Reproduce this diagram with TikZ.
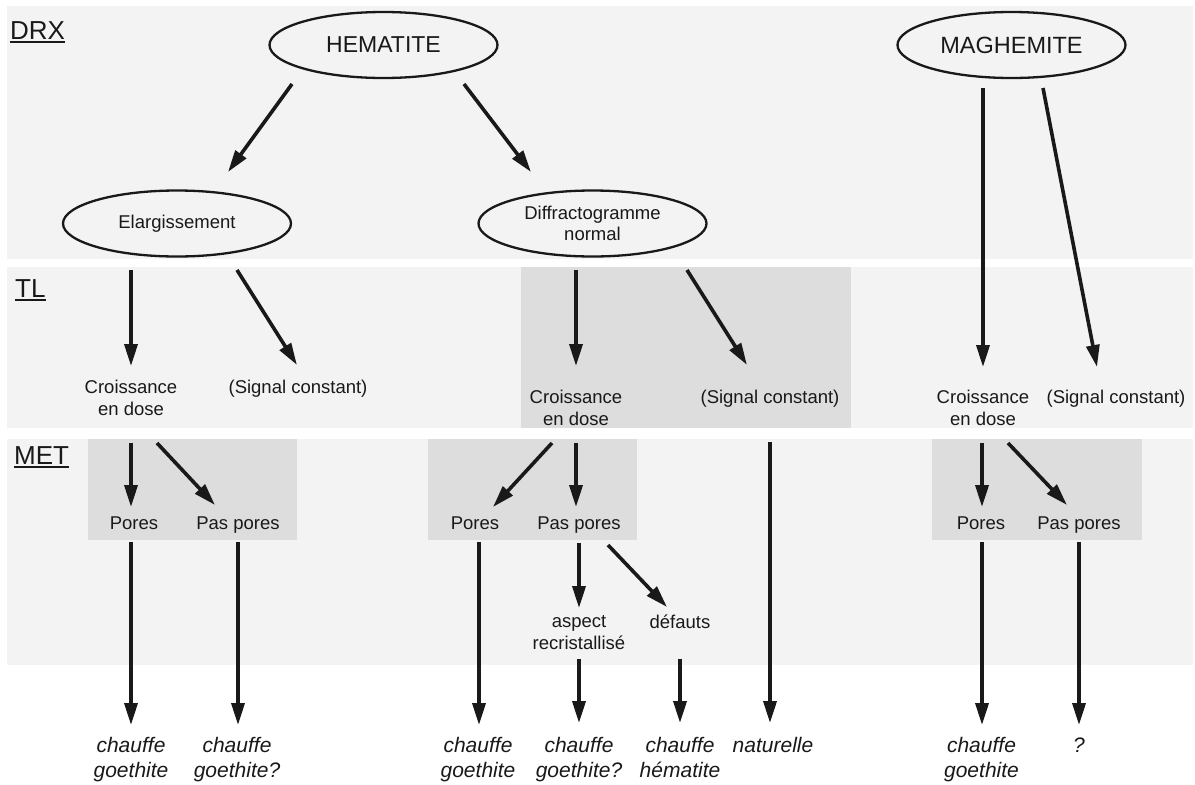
\documentclass[tikz,border=0pt]{standalone}
\usepackage{fontspec}
\setmainfont{Liberation Sans}
\usetikzlibrary{arrows.meta,shapes.geometric}
\definecolor{lanegray}{RGB}{243,243,243}
\definecolor{zonegray}{RGB}{221,221,221}
\definecolor{ink}{RGB}{25,25,25}
\begin{document}
\begin{tikzpicture}[x=1pt, y=-1pt,
    oval/.style={draw=ink, ellipse, line width=2.3pt, minimum width=228pt, minimum height=66pt, inner sep=0pt, text=ink},
    lbl/.style={inner sep=0pt, text=ink, align=center, font=\fontsize{18.5}{22}\selectfont},
    res/.style={inner sep=0pt, text=ink, align=center, anchor=base, font=\fontsize{21}{25}\selectfont\itshape},
    tag/.style={inner sep=0pt, text=ink, anchor=base west, font=\fontsize{26}{30}\selectfont},
    flow/.style={draw=ink, line width=3.6pt, -{Triangle[length=22pt,width=13pt]}}]
  \useasboundingbox (0,0) rectangle (1195,785);
  \foreach \ya/\yb in {6/259, 267/428, 439/665}
    \fill[lanegray] (7,\ya) rectangle (1193,\yb);
  \foreach \xa/\ya/\xb/\yb in {521/267/851/428, 88/439/297/540, 428/439/637/540, 932/439/1142/540}
    \fill[zonegray] (\xa,\ya) rectangle (\xb,\yb);

  \node[tag] (drx) at (10,39) {DRX};
  \node[tag] (tl) at (15,297) {TL};
  \node[tag] (met) at (14,464) {MET};
  \foreach \t in {drx,tl,met}
    \draw[ink, line width=1.8pt] ([yshift=-3pt]\t.base west) -- ([yshift=-3pt]\t.base east);

  \node[oval, font=\fontsize{23}{27}\selectfont] (hem) at (383.5,45) {HEMATITE};
  \node[oval, font=\fontsize{23.5}{27}\selectfont] (mag) at (1011.5,45) {MAGHEMITE};
  \node[oval, font=\fontsize{18.5}{22}\selectfont] (elarg) at (177,223.5) {Elargissement};
  \node[oval, align=center, font=\fontsize{18.5}{21}\selectfont] (diff) at (592.5,223.5) {Diffractogramme\\normal};

  \node[lbl] (crois1) at (131,398) {Croissance\\en dose};
  \node[lbl, anchor=base] (sig1) at (298,393) {(Signal constant)};
  \node[lbl] (crois2) at (576,408) {Croissance\\en dose};
  \node[lbl, anchor=base] (sig2) at (770,403) {(Signal constant)};
  \node[lbl] (crois3) at (983,408) {Croissance\\en dose};
  \node[lbl, anchor=base] (sig3) at (1116,403) {(Signal constant)};

  \node[lbl, anchor=base] (pores1) at (134,529) {Pores};
  \node[lbl, anchor=base] (paspores1) at (238,529) {Pas pores};
  \node[lbl, anchor=base] (pores2) at (475,529) {Pores};
  \node[lbl, anchor=base] (paspores2) at (579,529) {Pas pores};
  \node[lbl, anchor=base] (pores3) at (981,529) {Pores};
  \node[lbl, anchor=base] (paspores3) at (1079,529) {Pas pores};
  \node[lbl] (aspect) at (579,632.5) {aspect\\recristallisé};
  \node[lbl, anchor=base] (defauts) at (680,628) {défauts};

  \node[res] (bot1) at (131,777) {chauffe\\goethite};
  \node[res] (bot2) at (237,777) {chauffe\\goethite?};
  \node[res] (bot3) at (478,777) {chauffe\\goethite};
  \node[res] (bot4) at (579,777) {chauffe\\goethite?};
  \node[res] (bot5) at (680,777) {chauffe\\hématite};
  \node[res] (nat) at (773,752) {naturelle};
  \node[res] (bot6) at (981.5,777) {chauffe\\goethite};
  \node[res] (q) at (1079,752) {?};

  \draw[flow] ([xshift=-91.5pt,yshift=-39pt]hem.center) -- ([xshift=51pt,yshift=51.5pt]elarg.center);
  \draw[flow] ([xshift=80.5pt,yshift=-39pt]hem.center) -- ([xshift=-61.5pt,yshift=51.5pt]diff.center);
  \draw[flow] ([xshift=-28.5pt,yshift=-43pt]mag.center) -- ([yshift=41pt]crois3.center);
  \draw[flow] ([xshift=31.5pt,yshift=-43pt]mag.center) -- ([xshift=-19pt,yshift=36pt]sig3.base);
  \draw[flow] ([xshift=-46pt,yshift=-46.5pt]elarg.center) -- ([yshift=32pt]crois1.center);
  \draw[flow] ([xshift=60pt,yshift=-46.5pt]elarg.center) -- ([xshift=-1pt,yshift=28pt]sig1.base);
  \draw[flow] ([xshift=-16.5pt,yshift=-46.5pt]diff.center) -- ([yshift=42pt]crois2.center);
  \draw[flow] ([xshift=94.5pt,yshift=-46.5pt]diff.center) -- ([xshift=-23pt,yshift=38pt]sig2.base);

  \draw[flow] ([yshift=-45pt]crois1.center) -- ([xshift=-3pt,yshift=22pt]pores1.base);
  \draw[flow] ([xshift=26pt,yshift=-45pt]crois1.center) -- ([xshift=-23pt,yshift=24pt]paspores1.base);
  \draw[flow] ([xshift=-3pt,yshift=-13pt]pores1.base) -- ([yshift=52pt]bot1.base);
  \draw[flow] ([yshift=-13pt]paspores1.base) -- ([xshift=1pt,yshift=52pt]bot2.base);

  \draw[flow] ([xshift=-24pt,yshift=-35pt]crois2.center) -- ([xshift=18pt,yshift=22pt]pores2.base);
  \draw[flow] ([yshift=-35pt]crois2.center) -- ([xshift=-3pt,yshift=22pt]paspores2.base);
  \draw[flow] ([xshift=4pt,yshift=-13pt]pores2.base) -- ([xshift=1pt,yshift=52pt]bot3.base);
  \draw[flow] ([yshift=-14pt]paspores2.base) -- ([yshift=24.5pt]aspect.center);
  \draw[flow] ([xshift=29pt,yshift=-16pt]paspores2.base) -- ([xshift=-13pt,yshift=21pt]defauts.base);
  \draw[flow] ([yshift=-26.5pt]aspect.center) -- ([yshift=54pt]bot4.base);
  \draw[flow] ([yshift=-31pt]defauts.base) -- ([yshift=54pt]bot5.base);
  \draw[flow] ([yshift=-39pt]sig2.base) -- ([xshift=-3pt,yshift=29pt]nat.base);

  \draw[flow] ([xshift=-1pt,yshift=-35pt]crois3.center) -- ([xshift=1pt,yshift=22pt]pores3.base);
  \draw[flow] ([xshift=25pt,yshift=-35pt]crois3.center) -- ([xshift=-12pt,yshift=24pt]paspores3.base);
  \draw[flow] ([xshift=1pt,yshift=-13pt]pores3.base) -- ([xshift=0.5pt,yshift=52pt]bot6.base);
  \draw[flow] ([yshift=-13pt]paspores3.base) -- ([yshift=27pt]q.base);
\end{tikzpicture}
\end{document}
